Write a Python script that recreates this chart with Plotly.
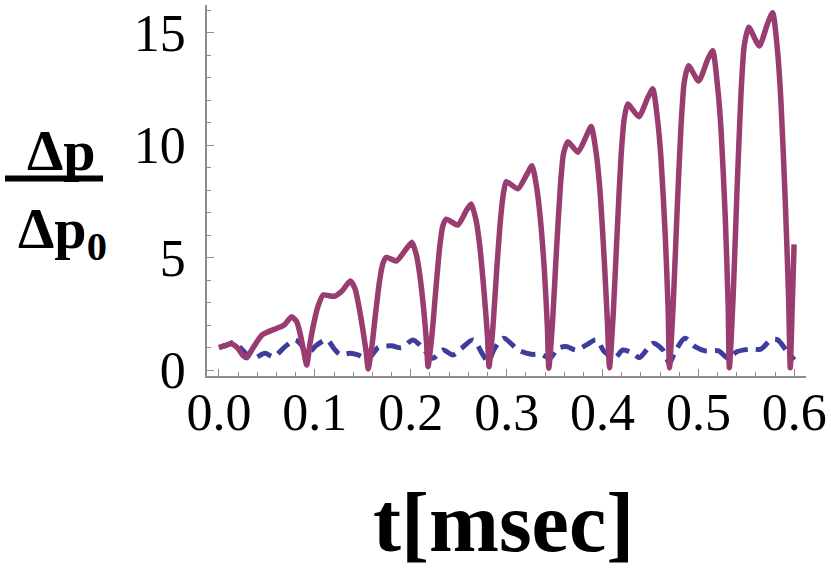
import plotly.graph_objects as go

# ---- data ----
t_purple = [0.0, 0.006, 0.0135, 0.02, 0.025, 0.029, 0.035, 0.045, 0.06, 0.068, 0.0757, 0.081, 0.085, 0.0885, 0.0915,
            0.095, 0.099, 0.103, 0.1087, 0.115, 0.121, 0.128, 0.137, 0.142, 0.146, 0.150, 0.1535, 0.1556,
            0.1596, 0.1634, 0.1676, 0.171, 0.1747, 0.185, 0.1955, 0.2014, 0.206, 0.2095, 0.2135, 0.2165, 0.218,
            0.222, 0.2258, 0.23, 0.2334, 0.237, 0.249, 0.258, 0.263, 0.2684, 0.272, 0.2764, 0.28, 0.2816,
            0.2856, 0.2894, 0.2936, 0.297, 0.2997, 0.3118, 0.321, 0.3264, 0.3314, 0.335, 0.3394, 0.3425, 0.344,
            0.348, 0.3518, 0.356, 0.3594, 0.364, 0.3743, 0.383, 0.3882, 0.3934, 0.397, 0.4014, 0.405, 0.4073,
            0.4113, 0.4151, 0.4193, 0.4227, 0.4264, 0.4378, 0.447, 0.4524, 0.4575, 0.461, 0.4654, 0.4685, 0.4698,
            0.4738, 0.4776, 0.4818, 0.4852, 0.4896, 0.5003, 0.5095, 0.5149, 0.52, 0.5236, 0.528, 0.531, 0.5323,
            0.5363, 0.5401, 0.5443, 0.5477, 0.5524, 0.5635, 0.572, 0.5774, 0.5825, 0.586, 0.5905, 0.594, 0.5958,
            0.5978, 0.5998]
dp_purple = [1.0, 1.08, 1.16, 0.95, 0.65, 0.55, 0.95, 1.56, 1.85, 2.0, 2.37, 2.15, 1.55, 0.8, 0.22,
             1.2, 2.1, 2.8, 3.34, 3.3, 3.29, 3.5, 3.96, 3.6, 2.8, 1.8, 0.8, 0.05,
             1.1, 2.55, 4.0, 4.75, 5.01, 4.85, 5.4, 5.68, 5.1, 4.2, 2.7, 1.2, 0.15,
             1.5, 3.4, 5.4, 6.4, 6.71, 6.45, 7.1, 7.39, 6.6, 5.5, 3.5, 1.5, 0.15,
             1.85, 4.3, 6.7, 7.95, 8.38, 8.06, 8.7, 9.09, 8.1, 6.8, 4.4, 1.9, 0.08,
             2.23, 5.2, 8.16, 9.65, 10.16, 9.69, 10.4, 10.83, 9.65, 8.16, 5.2, 2.23, 0.1,
             2.6, 6.0, 9.5, 11.2, 11.84, 11.27, 12.1, 12.51, 11.1, 9.4, 6.0, 2.6, 0.1,
             3.0, 6.9, 10.8, 12.8, 13.54, 12.86, 13.8, 14.21, 12.6, 10.7, 6.8, 2.9, 0.1,
             3.35, 7.8, 12.2, 14.4, 15.25, 14.42, 15.4, 15.9, 14.2, 12.0, 7.6, 3.3, 0.1,
             2.8, 5.59]

t_blue = [0.0, 0.008, 0.017, 0.022, 0.029, 0.036, 0.048, 0.057, 0.069, 0.0795, 0.086, 0.0917, 0.102, 0.1125,
          0.12, 0.126, 0.137, 0.145, 0.1556, 0.166, 0.18, 0.19, 0.2024, 0.211, 0.223, 0.2337, 0.244, 0.2528,
          0.265, 0.2753, 0.2805, 0.2875, 0.297, 0.312, 0.3257, 0.336, 0.345, 0.3535, 0.362, 0.3726, 0.383,
          0.3934, 0.402, 0.4125, 0.4212, 0.4316, 0.4385, 0.4472, 0.4533, 0.463, 0.4698, 0.4757, 0.486, 0.4965,
          0.507, 0.521, 0.5313, 0.54, 0.554, 0.565, 0.5757, 0.5826, 0.5914, 0.6]
dp_blue = [1.0, 1.12, 1.23, 1.0, 0.7, 0.52, 0.74, 0.59, 1.04, 1.34, 1.1, 0.72, 1.11, 1.34,
           0.95, 0.7, 0.74, 0.67, 0.5, 0.99, 1.08, 0.99, 1.34, 1.04, 0.52, 0.89, 0.67, 0.96,
           1.34, 0.67, 0.37, 0.96, 1.41, 0.89, 0.70, 0.70, 0.52, 0.96, 1.04, 0.89, 1.11,
           1.34, 0.81, 0.52, 0.89, 0.74, 0.55, 0.96, 1.19, 0.89, 0.3, 0.81, 1.41, 1.04,
           0.85, 0.85, 0.52, 0.81, 0.93, 0.93, 1.34, 1.34, 0.89, 0.45]

x_ticks = [0.0, 0.1, 0.2, 0.3, 0.4, 0.5, 0.6]
x_labels = ["0.0", "0.1", "0.2", "0.3", "0.4", "0.5", "0.6"]
y_ticks = [0, 5, 10, 15]
y_labels = ["0", "5", "10", "15"]

PURPLE = "rgb(153,61,112)"
BLUE = "rgb(61,61,158)"
AXIS = "#8c8c8c"
FONT = "Liberation Serif"

fig = go.Figure()
fig.add_trace(go.Scatter(x=t_blue, y=dp_blue, mode="lines",
                         line=dict(color=BLUE, width=5, dash="15px,8px", shape="spline", smoothing=0.8),
                         hoverinfo="skip", showlegend=False))
fig.add_trace(go.Scatter(x=t_purple, y=dp_purple, mode="lines",
                         line=dict(color=PURPLE, width=5.5, shape="spline", smoothing=0.6),
                         hoverinfo="skip", showlegend=False))

W, H = 831, 570
L, R, T, B = 207, 806, 5, 376  # plot area pixel box


def px(xs):
    return (xs - L) / (R - L)


def py(ys):
    return (B - ys) / (B - T)


fig.update_layout(
    width=W, height=H,
    margin=dict(l=L, r=W - R, t=T, b=H - B, autoexpand=False),
    plot_bgcolor="white", paper_bgcolor="white",
    font=dict(family=FONT, color="black"),
    xaxis=dict(range=[-0.0125, 0.6122], tickvals=x_ticks, ticktext=x_labels, automargin=False,
               ticks="inside", ticklen=7, tickwidth=1.2, tickcolor=AXIS,
               minor=dict(dtick=0.02, tick0=0, ticks="inside", ticklen=4, tickcolor=AXIS, tickwidth=1),
               showgrid=False, zeroline=False, showline=True, linecolor=AXIS, linewidth=1.5,
               tickfont=dict(family=FONT, size=52, color="black"), ticklabelstandoff=-10,
               ticklabeloverflow="allow"),
    yaxis=dict(range=[-0.267, 16.24], tickvals=y_ticks, ticktext=y_labels, automargin=False,
               ticks="inside", ticklen=7, tickwidth=1.2, tickcolor=AXIS,
               minor=dict(dtick=1, tick0=0, ticks="inside", ticklen=4, tickcolor=AXIS, tickwidth=1),
               showgrid=False, zeroline=False, showline=True, linecolor=AXIS, linewidth=1.5,
               tickfont=dict(family=FONT, size=52, color="black"), ticklabelstandoff=9,
               ticklabeloverflow="allow"),
)

fig.add_annotation(text="<b>t[msec]</b>", xref="paper", yref="paper",
                   x=px(503), y=py(522), xanchor="center", yanchor="middle", showarrow=False,
                   font=dict(family=FONT, size=84, color="black"))
fig.add_annotation(text="<b>Δp</b>", xref="paper", yref="paper",
                   x=px(61), y=py(150), xanchor="center", yanchor="middle", showarrow=False,
                   font=dict(family=FONT, size=58, color="black"))
fig.add_annotation(text="<b>Δp<sub>0</sub></b>", xref="paper", yref="paper",
                   x=px(62), y=py(232), xanchor="center", yanchor="middle", showarrow=False,
                   font=dict(family=FONT, size=58, color="black"))
fig.add_shape(type="line", xref="paper", yref="paper",
              x0=px(5), x1=px(103), y0=py(178.5), y1=py(178.5),
              line=dict(color="black", width=6))

# remove the browser's default 8px body margin so the figure sits at the page corner
fig.write_html("out.html", config={"displayModeBar": False},
               post_script="document.body.style.margin='0px';")
